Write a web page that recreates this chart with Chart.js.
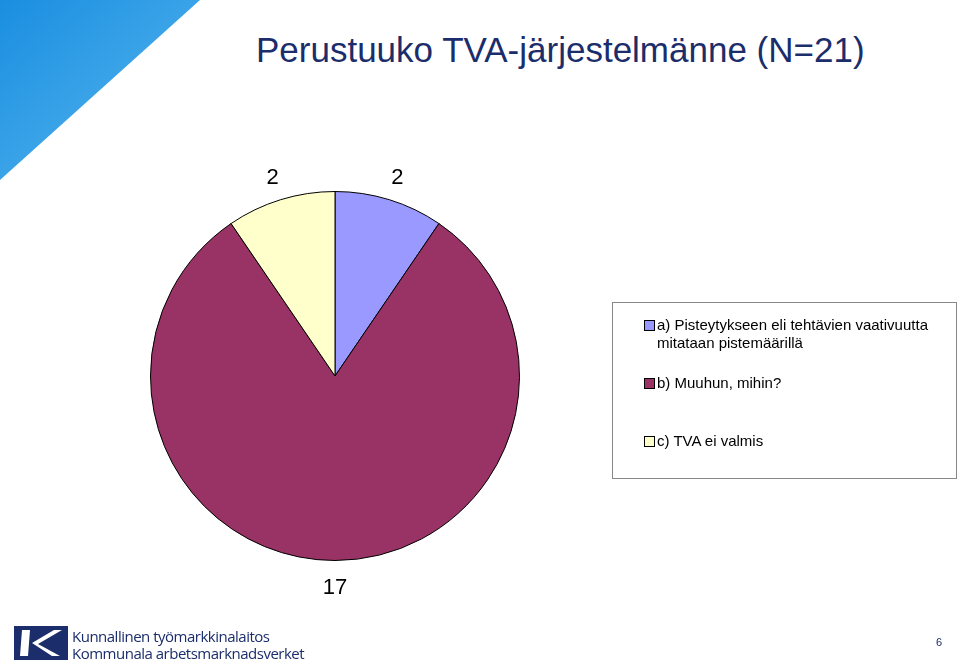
<!DOCTYPE html>
<html><head><meta charset="utf-8">
<script src="https://cdn.jsdelivr.net/npm/chart.js@4"></script>
<style>
body{margin:0;width:960px;height:661px;position:relative;background:#fff;font-family:"Liberation Sans",Arial,sans-serif;overflow:hidden}
#c{position:absolute;left:0;top:0}
#title{position:absolute;left:256px;top:30px;font-size:35px;color:#1b2d6b}
#legend{position:absolute;left:612px;top:302px;width:345px;height:177px;border:1px solid #888;box-sizing:border-box;font-size:15px;color:#000}
.li{position:absolute;left:44px;}
.sw{position:absolute;left:-13px;top:4px;width:9px;height:9px;border:1px solid #000}
#logo{position:absolute;left:72px;top:628px;font-size:15px;color:#1b2d6b;line-height:17px;font-family:"Open Sans";letter-spacing:-0.5px}
#pg{position:absolute;left:936px;top:636px;font-size:11px;color:#1b2d6b}
</style></head><body>
<svg style="position:absolute;left:0;top:0" width="210" height="190"><defs><linearGradient id="g" x1="0" y1="0" x2="1" y2="1"><stop offset="0" stop-color="#1a8ee0"/><stop offset="1" stop-color="#5ab8f0"/></linearGradient></defs><polygon points="0,0 200,0 0,180" fill="url(#g)"/></svg>
<div id="title">Perustuuko TVA-järjestelmänne (N=21)</div>
<canvas id="c" width="960" height="661"></canvas>
<div id="legend">
<div class="li" style="top:13px;width:300px;line-height:18px"><span class="sw" style="background:#9999ff"></span>a) Pisteytykseen eli tehtävien vaativuutta mitataan pistemäärillä</div>
<div class="li" style="top:71px"><span class="sw" style="background:#993366"></span>b) Muuhun, mihin?</div>
<div class="li" style="top:129px"><span class="sw" style="background:#ffffcc"></span>c) TVA ei valmis</div>
</div>
<svg style="position:absolute;left:14px;top:626px" width="54" height="34"><rect width="54" height="34" fill="#1b2d6b"/><polygon points="8,4 16,4 14,30 6,30" fill="#fff"/><polygon points="18,17 40,4 48,4 24,18 46,30 38,30" fill="#fff"/></svg>
<div id="logo">Kunnallinen työmarkkinalaitos<br>Kommunala arbetsmarknadsverket</div>
<div id="pg">6</div>
<script>
const categories=["a) Pisteytykseen eli tehtävien vaativuutta mitataan pistemäärillä","b) Muuhun, mihin?","c) TVA ei valmis"];
const values=[2,17,2];
const colors=["#9999ff","#993366","#ffffcc"];
const labelPlugin={id:'lbl',afterDatasetsDraw(ch){const ctx=ch.ctx;const m=ch.getDatasetMeta(0);ctx.save();ctx.font='22px "Liberation Sans",Arial';ctx.fillStyle='#000';ctx.textAlign='center';ctx.textBaseline='middle';
m.data.forEach((a,i)=>{const ang=(a.startAngle+a.endAngle)/2;const r=a.outerRadius+27;let x=a.x+Math.cos(ang)*r,y=a.y+Math.sin(ang)*r;if(i!==1){y=a.y-a.outerRadius-14;}ctx.fillText(String(values[i]),x,y);});ctx.restore();}};
new Chart(document.getElementById('c'),{type:'pie',data:{labels:categories,datasets:[{data:values,backgroundColor:colors,borderColor:'#000',borderWidth:1}]},
options:{responsive:false,animation:false,layout:{padding:{left:150,right:440,top:191,bottom:100}},plugins:{legend:{display:false},tooltip:{enabled:false}}},plugins:[labelPlugin]});
</script>
</body></html>
